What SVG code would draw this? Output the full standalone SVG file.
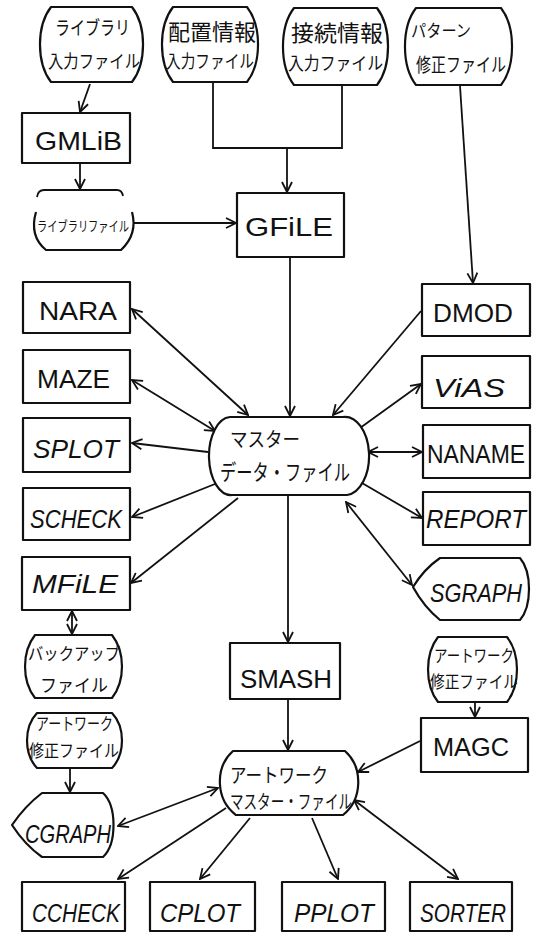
<svg xmlns="http://www.w3.org/2000/svg" width="535" height="933" viewBox="0 0 535 933">
<defs>
<style>
.bx{fill:#fff;stroke:#111;stroke-width:2.2;stroke-linejoin:round}
.ln{fill:none;stroke:#111;stroke-width:1.8}
.lat{font-family:"Liberation Sans",Arial,sans-serif;font-size:25px;fill:#111}
.it{font-style:italic}
.jp{font-family:"Noto Sans CJK JP","Noto Sans",sans-serif;fill:#111}
</style>
<marker id="ah" viewBox="0 0 12 12" refX="11" refY="6" markerWidth="12" markerHeight="12" markerUnits="userSpaceOnUse" orient="auto-start-reverse">
<path d="M1,1 L11,6 L1,11" fill="none" stroke="#111" stroke-width="1.8"/>
</marker>
</defs>
<rect width="535" height="933" fill="#fff"/>

<!-- connectors -->
<g id="connectors" class="ln">
<path d="M90,84 L80,112" marker-end="url(#ah)"/>
<path d="M213,83 V148 H342 V85"/>
<path d="M287,148 V192" marker-end="url(#ah)"/>
<path d="M80,164 V189" marker-end="url(#ah)"/>
<path d="M134,223 H236" marker-end="url(#ah)"/>
<path d="M460,86 L473,283" marker-end="url(#ah)"/>
<path d="M290,258 V416" marker-end="url(#ah)"/>
<path d="M132,309 L248,415" marker-start="url(#ah)" marker-end="url(#ah)"/>
<path d="M132,380 L215,431" marker-start="url(#ah)" marker-end="url(#ah)"/>
<path d="M208,452 L132,443" marker-end="url(#ah)"/>
<path d="M220,482 L132,517" marker-end="url(#ah)"/>
<path d="M238,498 L131,583" marker-end="url(#ah)"/>
<path d="M421,311 L333,415" marker-end="url(#ah)"/>
<path d="M360,428 L421,384" marker-end="url(#ah)"/>
<path d="M368,452 L422,452" marker-start="url(#ah)" marker-end="url(#ah)"/>
<path d="M362,483 L422,518" marker-end="url(#ah)"/>
<path d="M346,502 L412,585" marker-start="url(#ah)" marker-end="url(#ah)"/>
<path d="M288,496 V642" marker-end="url(#ah)"/>
<path d="M72,611 V634" marker-start="url(#ah)" marker-end="url(#ah)"/>
<path d="M475,703 V717" marker-end="url(#ah)"/>
<path d="M420,741 L358,772" marker-end="url(#ah)"/>
<path d="M288,700 V750" marker-end="url(#ah)"/>
<path d="M70,768 V792" marker-end="url(#ah)"/>
<path d="M118,826 L218,788" marker-start="url(#ah)" marker-end="url(#ah)"/>
<path d="M226,808 L118,879" marker-end="url(#ah)"/>
<path d="M250,818 L200,879" marker-end="url(#ah)"/>
<path d="M312,818 L338,879" marker-end="url(#ah)"/>
<path d="M354,800 L458,879" marker-start="url(#ah)" marker-end="url(#ah)"/>
</g>

<!-- input files -->
<g id="lib-input">
<path class="bx" d="M51,7 L132,7 C146.7,26 146.7,63 132,82 L51,82 C36.3,63 36.3,26 51,7 Z"/>
<text class="jp" x="55" y="35" font-size="19" textLength="75" lengthAdjust="spacingAndGlyphs">ライブラリ</text>
<text class="jp" x="48" y="68" font-size="18" textLength="92" lengthAdjust="spacingAndGlyphs">入力ファイル</text>
</g>
<g id="place-input">
<path class="bx" d="M173,7 L247,7 C261.7,26 261.7,63 247,82 L173,82 C158.3,63 158.3,26 173,7 Z"/>
<text class="jp" x="168" y="40" font-size="22" textLength="88" lengthAdjust="spacingAndGlyphs">配置情報</text>
<text class="jp" x="166" y="68" font-size="18" textLength="88" lengthAdjust="spacingAndGlyphs">入力ファイル</text>
</g>
<g id="conn-input">
<path class="bx" d="M294,8 L377,8 C391.7,27 391.7,66 377,85 L294,85 C279.3,66 279.3,27 294,8 Z"/>
<text class="jp" x="291" y="41" font-size="22" textLength="92" lengthAdjust="spacingAndGlyphs">接続情報</text>
<text class="jp" x="288" y="70" font-size="18" textLength="95" lengthAdjust="spacingAndGlyphs">入力ファイル</text>
</g>
<g id="pattern-fix">
<path class="bx" d="M416,8 L501,8 C515.7,27 515.7,66 501,85 L416,85 C401.3,66 401.3,27 416,8 Z"/>
<text class="jp" x="411" y="37" font-size="17" textLength="60" lengthAdjust="spacingAndGlyphs">パターン</text>
<text class="jp" x="416" y="72" font-size="19" textLength="90" lengthAdjust="spacingAndGlyphs">修正ファイル</text>
</g>

<g id="gmlib">
<rect class="bx" x="22" y="113" width="108" height="50"/>
<text class="lat" x="35" y="150" textLength="87" lengthAdjust="spacingAndGlyphs">GMLiB</text>
</g>
<g id="lib-file">
<path class="ln" d="M37,197 Q38,190 44,190 L117,190 Q122,190 123,196"/>
<path class="bx" fill="none" d="M36,212 Q29,236 46,250 L121,250 Q138,234 132,212"/>
<text class="jp" x="37" y="231" font-size="14" textLength="92" lengthAdjust="spacingAndGlyphs">ライブラリファイル</text>
</g>
<g id="gfile">
<rect class="bx" x="237" y="193" width="107" height="64"/>
<text class="lat" x="245" y="236" textLength="88" lengthAdjust="spacingAndGlyphs">GFiLE</text>
</g>

<!-- left tools -->
<g id="nara">
<rect class="bx" x="23" y="282" width="107" height="51"/>
<text class="lat" x="39" y="320" textLength="78" lengthAdjust="spacingAndGlyphs">NARA</text>
</g>
<g id="maze">
<rect class="bx" x="23" y="350" width="107" height="53"/>
<text class="lat" x="37" y="388" textLength="73" lengthAdjust="spacingAndGlyphs">MAZE</text>
</g>
<g id="splot">
<rect class="bx" x="23" y="418" width="107" height="54"/>
<text class="lat it" x="33" y="458" textLength="86" lengthAdjust="spacingAndGlyphs">SPLOT</text>
</g>
<g id="scheck">
<rect class="bx" x="23" y="488" width="107" height="52"/>
<text class="lat it" x="30" y="528" textLength="92" lengthAdjust="spacingAndGlyphs">SCHECK</text>
</g>
<g id="mfile">
<rect class="bx" x="22" y="557" width="108" height="53"/>
<text class="lat it" x="32" y="593" textLength="86" lengthAdjust="spacingAndGlyphs">MFiLE</text>
</g>

<!-- right tools -->
<g id="dmod">
<rect class="bx" x="422" y="284" width="108" height="52"/>
<text class="lat" x="433" y="322" textLength="80" lengthAdjust="spacingAndGlyphs">DMOD</text>
</g>
<g id="vias">
<rect class="bx" x="422" y="356" width="108" height="52"/>
<text class="lat it" x="433" y="397" textLength="72" lengthAdjust="spacingAndGlyphs">ViAS</text>
</g>
<g id="naname">
<rect class="bx" x="423" y="425" width="107" height="53"/>
<text class="lat" x="427" y="463" textLength="98" lengthAdjust="spacingAndGlyphs">NANAME</text>
</g>
<g id="report">
<rect class="bx" x="423" y="492" width="107" height="53"/>
<text class="lat it" x="426" y="528" textLength="100" lengthAdjust="spacingAndGlyphs">REPORT</text>
</g>

<!-- master data file -->
<g id="master-data">
<path class="bx" d="M230,417 L343,417 A24 39 0 0 1 347,495 L232,495 A22 39 0 0 1 230,417 Z"/>
<text class="jp" x="230" y="447" font-size="20" textLength="70" lengthAdjust="spacingAndGlyphs">マスター</text>
<text class="jp" x="220" y="480" font-size="22" textLength="130" lengthAdjust="spacingAndGlyphs">データ・ファイル</text>
</g>

<g id="sgraph">
<path class="bx" d="M413,587 Q424,569 440,558 L520,558 C532,572 532,606 520,620 L440,620 Q424,607 413,587 Z"/>
<text class="lat it" x="430" y="602" font-size="24" textLength="92" lengthAdjust="spacingAndGlyphs">SGRAPH</text>
</g>

<g id="backup">
<path class="bx" d="M35,635 L112,635 C125.3,652 125.3,681 112,698 L35,698 C21.7,681 21.7,652 35,635 Z"/>
<text class="jp" x="28" y="660" font-size="17" textLength="92" lengthAdjust="spacingAndGlyphs">バックアップ</text>
<text class="jp" x="40" y="692" font-size="18" textLength="68" lengthAdjust="spacingAndGlyphs">ファイル</text>
</g>

<g id="smash">
<rect class="bx" x="230" y="643" width="110" height="56"/>
<text class="lat" x="240" y="688" font-size="26" textLength="92" lengthAdjust="spacingAndGlyphs">SMASH</text>
</g>

<g id="aw-fix-right">
<path class="bx" d="M438,637 L507,637 C520.3,654 520.3,685 507,702 L438,702 C424.7,685 424.7,654 438,637 Z"/>
<text class="jp" x="434" y="662" font-size="17" textLength="80" lengthAdjust="spacingAndGlyphs">アートワーク</text>
<text class="jp" x="430" y="688" font-size="17" textLength="88" lengthAdjust="spacingAndGlyphs">修正ファイル</text>
</g>
<g id="magc">
<rect class="bx" x="421" y="718" width="107" height="54"/>
<text class="lat" x="433" y="756" textLength="76" lengthAdjust="spacingAndGlyphs">MAGC</text>
</g>

<g id="aw-fix-left">
<path class="bx" d="M37,713 L112,713 C125.3,727 125.3,754 112,768 L37,768 C23.7,754 23.7,727 37,713 Z"/>
<text class="jp" x="36" y="730" font-size="17" textLength="77" lengthAdjust="spacingAndGlyphs">アートワーク</text>
<text class="jp" x="29" y="757" font-size="17" textLength="90" lengthAdjust="spacingAndGlyphs">修正ファイル</text>
</g>

<g id="aw-master">
<path class="bx" d="M233,751 L345,751 C363,767 363,799 343,815 L236,815 C215,799 215,767 233,751 Z"/>
<text class="jp" x="230" y="783" font-size="20" textLength="98" lengthAdjust="spacingAndGlyphs">アートワーク</text>
<text class="jp" x="230" y="809" font-size="19" textLength="122" lengthAdjust="spacingAndGlyphs">マスター・ファイル</text>
</g>

<g id="cgraph">
<path class="bx" d="M12,825 Q25,806 42,793 L103,793 C117,806 117,844 103,857 L42,857 Q25,845 12,825 Z"/>
<text class="lat it" x="25" y="843" font-size="26" textLength="86" lengthAdjust="spacingAndGlyphs">CGRAPH</text>
</g>

<!-- bottom row -->
<g id="ccheck">
<rect class="bx" x="22" y="882" width="103" height="49"/>
<text class="lat it" x="32" y="922" textLength="88" lengthAdjust="spacingAndGlyphs">CCHECK</text>
</g>
<g id="cplot">
<rect class="bx" x="150" y="882" width="105" height="49"/>
<text class="lat it" x="160" y="922" textLength="80" lengthAdjust="spacingAndGlyphs">CPLOT</text>
</g>
<g id="pplot">
<rect class="bx" x="282" y="882" width="103" height="49"/>
<text class="lat it" x="294" y="922" textLength="80" lengthAdjust="spacingAndGlyphs">PPLOT</text>
</g>
<g id="sorter">
<rect class="bx" x="410" y="882" width="102" height="49"/>
<text class="lat it" x="420" y="922" textLength="86" lengthAdjust="spacingAndGlyphs">SORTER</text>
</g>
</svg>
